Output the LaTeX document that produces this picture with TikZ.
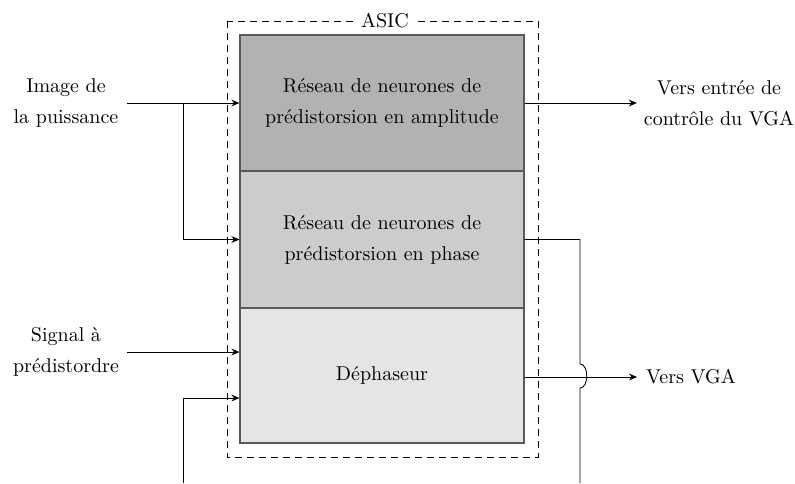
\documentclass[tikz,border=0pt]{standalone}
\usetikzlibrary{positioning,arrows.meta,calc}
\tikzset{
  blk/.style    = {draw=black!65, line width=0.6pt, minimum width=142pt,
                   minimum height=68pt, inner sep=0pt, align=center,
                   font=\fontsize{10}{15.5}\selectfont},
  lbl/.style    = {align=center, font=\fontsize{10}{15.5}\selectfont},
  flow/.style   = {-{Stealth[length=4pt,width=3.4pt]}, black, line width=0.45pt},
  wire/.style   = {black, line width=0.45pt},
  asicbox/.style= {dashed, dash pattern=on 3.5pt off 2.5pt, line width=0.45pt},
}
\begin{document}
\begin{tikzpicture}[x=0.5pt, y=-0.5pt]
  \useasboundingbox (0,0) rectangle (795,483);

  % ---- ASIC frame ----------------------------------------------------
  \draw[asicbox] (227,21) rectangle (538,457);
  \node[lbl, fill=white, inner sep=2.5pt] (asic) at (385,21) {ASIC};

  % ---- the three blocks ----------------------------------------------
  \node[blk, fill=black!30] (amp) at (382,103)
    {R\'eseau de neurones de\\pr\'edistorsion en amplitude};
  \node[blk, fill=black!20, minimum height=68.5pt] (phase) at (382,239.5)
    {R\'eseau de neurones de\\pr\'edistorsion en phase};
  \node[blk, fill=black!10, minimum height=67.5pt] (deph) at (382,375.5)
    {D\'ephaseur};

  % ---- inputs ----------------------------------------------------------
  \node[lbl] (pw)  at (66,103) {Image de\\la puissance};
  \node[lbl] (sig) at (66,352) {Signal \`a\\pr\'edistordre};
  \coordinate (in1) at (127,103);
  \coordinate (in2) at (127,352);
  \coordinate (br)  at (183,103);
  \coordinate (lo)  at (183,483);

  \draw[flow] (in1) -- (amp.west);
  \draw[flow] (br) |- (phase.west);
  \draw[flow] (in2) -- ([yshift=11.75pt]deph.west);
  \draw[flow] (lo) |- ([yshift=-11.25pt]deph.west);

  % ---- outputs ---------------------------------------------------------
  \node[lbl] (ctl) at (719,103) {Vers entr\'ee de\\contr\^ole du VGA};
  \node[lbl, anchor=west] (vga) at (639,377) {Vers VGA};

  \draw[flow] (amp.east) -- (ctl.west);
  \draw[flow] ([yshift=-0.75pt]deph.east) -- ([xshift=-1pt]vga.west);

  % phase output, jumping over the VGA line
  \coordinate (ph1) at (580,239.5);
  \coordinate (jt)  at (580,364);
  \coordinate (jb)  at (580,388);
  \coordinate (ph2) at (580,483);
  \draw[wire] (phase.east) -- (ph1) -- (jt)
    .. controls (589,364) and (589,388) .. (jb) -- (ph2);

\end{tikzpicture}
\end{document}
